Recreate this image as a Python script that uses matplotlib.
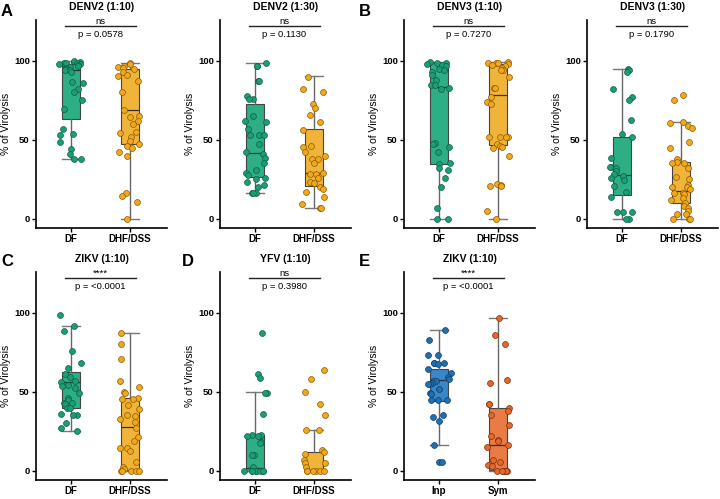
import numpy as np
import matplotlib.pyplot as plt

plt.rcParams['font.family'] = ['Liberation Sans', 'DejaVu Sans']

# panel titles / annotations
titles = ['DENV2 (1:10)', 'DENV2 (1:30)', 'DENV3 (1:10)', 'DENV3 (1:30)',
          'ZIKV (1:10)', 'YFV (1:10)', 'ZIKV (1:10)']
letters = ['A', '', 'B', '', 'C', 'D', 'E']
stars = ['ns', 'ns', 'ns', 'ns', '****', 'ns', '****']
pvals = ['p = 0.0578', 'p = 0.1130', 'p = 0.7270', 'p = 0.1790',
         'p = <0.0001', 'p = 0.3980', 'p = <0.0001']
group_names = [['DF', 'DHF/DSS']] * 6 + [['Inp', 'Sym']]

# % of virolysis per patient
denv2_10_df = [100, 99.5, 99, 99, 98.5, 98, 98, 97.5, 97, 96, 95.5, 95, 94, 94, 93,
               86.5, 86, 82, 80.5, 75, 69.5, 57, 53.5, 53, 48.5, 44, 41, 37.5, 37.5]
denv2_10_dhf = [98.5, 98, 97, 96, 95.5, 95, 93, 91, 90.5, 87, 80, 69, 65, 64.5, 62,
                60, 55, 54, 51.5, 49, 47, 46, 45, 42.5, 40, 16.5, 14.5, 10.5, 0]
denv2_30_df = [98.5, 96.5, 96.5, 87, 87, 77.5, 76, 76, 65, 62, 61.5, 57, 53, 53, 53,
               47.5, 42, 41, 38.5, 35, 31, 29, 27.5, 26, 25, 23, 21, 20, 16.5, 16.5, 16.5]
denv2_30_dhf = [90, 82.5, 80, 73, 70, 66, 61, 56.5, 46, 45.5, 42, 40, 38, 37.5, 35,
                29, 28.5, 28.5, 25.5, 23, 22.5, 20, 18.5, 17, 13.5, 9, 7, 6.5]
denv3_10_df = [99.5, 99, 98.5, 98, 97.5, 96.5, 95, 94.5, 93, 91, 88, 85, 84.5, 83, 82.5,
               48, 47.5, 45.5, 42, 35, 34.5, 32, 30.5, 26, 20, 6.5, 0, 0]
denv3_10_dhf = [99.5, 99, 99, 98.5, 98, 97.5, 96.5, 95.5, 94, 94, 90, 83, 83, 77, 74, 73,
                52, 52, 52, 51.5, 47, 46, 45.5, 44.5, 39.5, 22, 21, 20.5, 20.5, 5, 0]
denv3_30_df = [95, 94.5, 93, 82, 77, 75.5, 62.5, 53.5, 52, 38.5, 33, 32.5, 32, 30, 28.5,
               27, 25.5, 24.5, 20.5, 17, 13.5, 4, 4, 4, 0, 0]
denv3_30_dhf = [78.5, 75, 61, 60.5, 58.5, 57.5, 48.5, 44.5, 38, 36, 35.5, 35.5, 32, 26.5,
                25, 21, 20, 20, 18.5, 16.5, 16, 15.5, 13, 12, 10, 8, 7, 5, 3, 3, 0, 0, 0]
zikv_df = [99, 92, 88.5, 76, 68, 65, 61.5, 59.5, 57, 56, 54, 53.5, 52.5, 49, 46, 44.5,
           43, 43, 42, 40, 39.5, 36, 35, 35, 30, 27, 25]
zikv_dhf = [87, 80, 71, 57, 53, 50, 49.5, 46, 45.5, 45.5, 41.5, 39, 35, 34.5, 32.5, 30.5,
            27, 21, 18.5, 14, 14, 12.5, 5.5, 2, 1, 0, 0, 0, 0, 0]
yfv_df = [87, 61.5, 58.5, 49.5, 49.5, 36, 22.5, 22.5, 22, 22, 18, 18, 17.5, 10, 10, 2,
          0, 0, 0, 0, 0, 0, 0, 0]
yfv_dhf = [64, 58, 50, 42.5, 35, 26, 25.5, 13, 11.5, 10.5, 7, 5, 4.5, 2, 0, 0, 0, 0, 0, 0]
zikv_inp = [89, 83, 73.5, 73.5, 68, 68, 68, 67.5, 64.5, 62, 59.5, 58, 57, 57, 55.5, 55, 55,
            51.5, 49.5, 48.5, 45, 44.5, 44.5, 35.5, 34, 31.5, 16.5, 5.5, 5.5]
zikv_sym = [97, 86, 80, 57.5, 55.5, 42, 42, 39.5, 38, 35.5, 29, 22, 19.5, 19, 16.5, 15,
            7, 5.5, 3.5, 3, 0, 0, 0, 0, 0, 0, 0, 0]

# box stats: (whisker low, q1, median, q3, whisker high)
box_stats = [
    [(37.5, 63, 94, 98, 100), (0, 47, 69, 95, 98.5)],
    [(16.5, 26.5, 41.5, 73, 98.5), (6.5, 20.5, 29, 57, 90.5)],
    [(0, 34.5, 83.5, 98.5, 99.5), (0, 46.5, 78.5, 98, 99.5)],
    [(0, 15, 27.5, 52, 95), (0, 10, 17.5, 36, 61)],
    [(25, 40, 56, 62.5, 92), (0, 0.5, 27.5, 46, 87)],
    [(0, 0, 1.5, 22.5, 50), (0, 0, 0.5, 11.5, 26)],
    [(16, 44, 57.5, 64.5, 89), (0, 0.5, 16.5, 39.5, 96.5)],
]

data = [(denv2_10_df, denv2_10_dhf), (denv2_30_df, denv2_30_dhf),
        (denv3_10_df, denv3_10_dhf), (denv3_30_df, denv3_30_dhf),
        (zikv_df, zikv_dhf), (yfv_df, yfv_dhf), (zikv_inp, zikv_sym)]

green = ('#2DAE84', '#1B9E77', '#0E5E45')
orange = ('#F0B43A', '#F2A81D', '#8A5A00')
blue = ('#3A86C6', '#1F6FB2', '#0D3F6B')
red = ('#E97C45', '#E4682A', '#7A3010')
palettes = [(green, orange)] * 6 + [(blue, red)]

W, H = 720, 499
fig = plt.figure(figsize=(W / 100, H / 100), dpi=100)

lefts = [36, 220, 404, 587, 36, 220, 404]
rows = [(20, 228)] * 4 + [(272, 480)] * 3
letter_pos = [(7, 12), None, (365, 12), None, (7, 262), (188, 262), (364, 262)]

rng = np.random.default_rng(7)

for i in range(7):
    top, bot = rows[i]
    ax = fig.add_axes([lefts[i] / W, 1 - bot / H, 131 / W, (bot - top) / H])
    stats = []
    for lo, q1, med, q3, hi in box_stats[i]:
        stats.append(dict(whislo=lo, q1=q1, med=med, q3=q3, whishi=hi, fliers=[]))
    bp = ax.bxp(stats, positions=[0, 1], widths=0.3, patch_artist=True,
                showfliers=False,
                boxprops=dict(edgecolor='#444444', linewidth=0.8),
                medianprops=dict(color='#333333', linewidth=0.9),
                whiskerprops=dict(color='#666666', linewidth=1),
                capprops=dict(color='#777777', linewidth=1),
                capwidths=0.3)
    for j, patch in enumerate(bp['boxes']):
        patch.set_facecolor(palettes[i][j][0])
        patch.set_zorder(1)
    for j, vals in enumerate(data[i]):
        vals = np.array(vals)
        xs = j + rng.uniform(-0.2, 0.2, len(vals))
        ax.scatter(xs, vals, s=18, color=palettes[i][j][1],
                   edgecolor=palettes[i][j][2], linewidth=0.5, zorder=3)

    ax.set_xlim(-0.59, 1.63)
    ax.set_ylim(-6, 126)
    ax.set_yticks([0, 50, 100])
    ax.set_xticks([0, 1])
    ax.set_xticklabels(group_names[i], fontsize=7, fontweight='bold')
    for lab in ax.get_yticklabels():
        lab.set_fontweight('bold')
        lab.set_fontsize(6.8)
    ax.tick_params(length=3, width=1, pad=1.5)
    ax.set_ylabel('% of Virolysis', fontsize=7.5)
    ax.yaxis.set_label_coords(-0.19, 0.5)
    for s in ['top', 'right']:
        ax.spines[s].set_visible(False)
    for s in ['left', 'bottom']:
        ax.spines[s].set_linewidth(1.2)

    ax.plot([-0.1, 1.1], [122, 122], color='#222222', lw=1, clip_on=False)
    ax.text(0.5, 122.5, stars[i], ha='center', va='bottom', fontsize=6.8)
    ax.text(0.5, 116.5, pvals[i], ha='center', va='center', fontsize=6.8)
    ax.text(0.5, 1.0 + 13 / (bot - top), titles[i], transform=ax.transAxes,
            ha='center', va='center', fontsize=7.5, fontweight='bold')

    if letter_pos[i] is not None:
        lx, ly = letter_pos[i]
        fig.text(lx / W, 1 - ly / H, letters[i], ha='center', va='center',
                 fontsize=12, fontweight='bold')

fig.savefig('out.png', dpi=100)
